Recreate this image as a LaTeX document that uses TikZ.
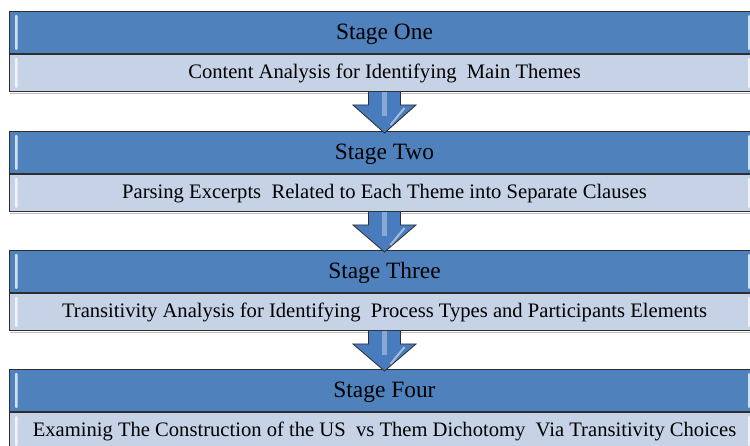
\documentclass[tikz,border=0pt]{standalone}
\usepackage{fontspec}
\setmainfont{Liberation Serif}
\usetikzlibrary{calc}
\definecolor{hdr}{RGB}{79,129,189}
\definecolor{subc}{RGB}{198,210,230}
\definecolor{edgec}{RGB}{45,45,45}
\definecolor{arrdark}{RGB}{72,124,190}
\definecolor{arrlight}{RGB}{170,205,240}
\tikzset{
  hdrbox/.style={draw=edgec, line width=1pt, fill=hdr, minimum width=750pt,
    minimum height=42pt, inner sep=0pt, anchor=north west, text height=20pt, text depth=5pt,
    font=\fontsize{23.4}{26}\selectfont},
  subbox/.style={draw=edgec, line width=1pt, fill=subc, minimum width=750pt,
    minimum height=37pt, inner sep=0pt, anchor=north west, text height=15pt, text depth=4pt,
    font=\fontsize{20.6}{23}\selectfont},
  gloss/.style={fill=white, opacity=0.75, rounded corners=1pt},
  flowarrow/.style={draw=edgec, line width=0.8pt, left color=arrdark,
    middle color=arrlight, right color=arrdark},
  shadowline/.style={draw=black!25, line width=1pt}
}
\newcommand{\glossy}[1]{%
  \fill[gloss] ($(#1.north west)+(6,4)$) rectangle ($(#1.south west)+(8.5,-4)$);
  \fill[gloss] ($(#1.north west)+(739,4)$) rectangle ($(#1.south west)+(741,-4)$);
}
\newcommand{\flowarr}[2]{%
  \coordinate (tmpb) at (#1.south);
  \coordinate (tmpt) at ($(#2.north)+(0,2)$);
  \path[flowarrow] ($(tmpb)+(-16,0)$) -- ($(tmpb)+(-16,13)$) -- ($(tmpb)+(-31.5,13)$)
     -- (tmpt) -- ($(tmpb)+(31.5,13)$) -- ($(tmpb)+(16,13)$) -- ($(tmpb)+(16,0)$);
  \fill[white, opacity=0.35] ($(tmpb)+(-2.5,0)$) rectangle ($(tmpb)+(2.5,24)$);
  \draw[white, opacity=0.5, line width=2pt] ($(tmpb)+(20,16)$) -- ($(tmpb)+(6,33)$);
}
\begin{document}
\begin{tikzpicture}[x=1pt, y=-1pt]
\useasboundingbox (0,0) rectangle (750,446);
\clip (0,0) rectangle (750,446);
\fill[white] (0,0) rectangle (750,446);

% Stage One
\node[hdrbox] (s1hdr) at (9,11) {Stage One};
\node[subbox] (s1sub) at (s1hdr.south west) {Content Analysis for Identifying\ \ Main Themes};
% Stage Two
\node[hdrbox] (s2hdr) at (9,131) {Stage Two};
\node[subbox] (s2sub) at (s2hdr.south west) {Parsing Excerpts\ \ Related to Each Theme into Separate Clauses};
% Stage Three
\node[hdrbox] (s3hdr) at (9,250) {Stage Three};
\node[subbox] (s3sub) at (s3hdr.south west) {Transitivity Analysis for Identifying\ \ Process Types and Participants Elements};
% Stage Four
\node[hdrbox] (s4hdr) at (9,369) {Stage Four};
\node[subbox] (s4sub) at (s4hdr.south west) {Examinig The Construction of the US\ \ vs Them Dichotomy\ \ Via Transitivity Choices};

\foreach \n in {s1sub,s2sub,s3sub}{
  \draw[shadowline] ($(\n.south west)+(1,1.5)$) -- ($(\n.south east)+(0,1.5)$);
}
\foreach \n in {s1hdr,s1sub,s2hdr,s2sub,s3hdr,s3sub,s4hdr,s4sub}{\glossy{\n}}

\flowarr{s1sub}{s2hdr}
\flowarr{s2sub}{s3hdr}
\flowarr{s3sub}{s4hdr}
\end{tikzpicture}
\end{document}
